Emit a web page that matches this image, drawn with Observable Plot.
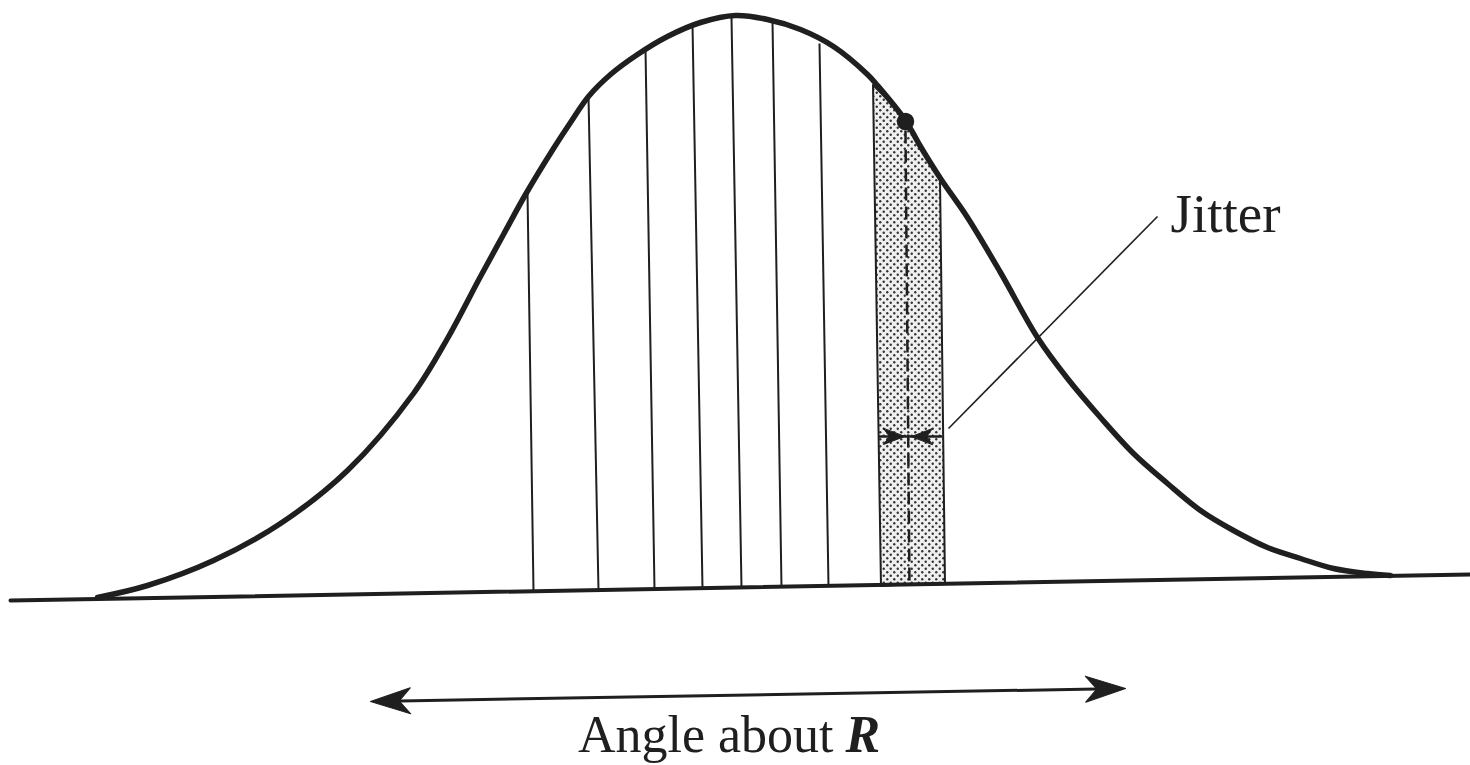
<!DOCTYPE html>
<html>
<head>
<meta charset="utf-8">
<script src="https://cdn.jsdelivr.net/npm/d3@7"></script>
<script src="https://cdn.jsdelivr.net/npm/@observablehq/plot@0.6"></script>
<style>
  html, body { margin: 0; padding: 0; background: #ffffff; }
  #chart { width: 1470px; height: 765px; overflow: hidden; }
</style>
</head>
<body>
<div id="chart"></div>
<script>
// ---- data (horizontal: angle, vertical: height, both in picture units) ----
const curveX = [97,147,213,280,347,413,447,480,503,525,553,570,588,610,637,667,700,735,767,800,833,867,877,905,920,940,967,1000,1037,1067,1100,1133,1167,1200,1233,1267,1300,1333,1367,1390];
const curveY = [597,585,560,523,470,393,338,276,234,194,148,122,96,74,54,36,22,15,19,29,46,74,85,120,146,178,217,272,337,378,417,453,483,510,530,547,558,568,573,575];

const baseX = [10, 1470];
const baseY = [600, 574];

const sampleBottomX = [533, 598, 654, 702, 741, 781, 828];
const sampleBottomY = [591, 590, 589, 588, 587, 587, 586];
const sampleTopX    = [527, 588, 645, 692, 731, 772, 819];
const sampleTopY    = [191, 96, 49, 24, 17, 21, 43];

const bandBottomX = [881, 897, 913, 929, 945];
const bandBottomY = [586, 585, 585, 585, 584];
const bandTopX    = [873, 889, 905, 922, 940];
const bandTopY    = [85, 101, 120, 148, 178];

const pointX = [905];
const pointY = [121];

const dashX = [905, 909];
const dashY = [130, 585];

const leaderX = [1157, 948];
const leaderY = [216, 428];

const jitterShaftX = [878, 942];
const jitterShaftY = [436, 436];
const jitterTipX = [904, 911];
const jitterTipY = [436, 436];
const jitterTipDir = [90, -90];

const rangeTipX = [370, 1125];
const rangeTipY = [701, 688];
const rangeShaftX = [386, 1109];
const rangeShaftY = [700.7, 688.3];

const labelJitter = "Jitter";
const labelAxis = "Angle about";
const labelAxisSymbol = "R";

// ---- build tables ----
const ink = "#1f1f1f";
const curve = curveX.map((x, i) => ({x, y: curveY[i]}));
const base = baseX.map((x, i) => ({x, y: baseY[i]}));
const samples = sampleBottomX.map((x, i) => ({x1: x, y1: sampleBottomY[i], x2: sampleTopX[i], y2: sampleTopY[i]}));
const band = bandBottomX.map((x, i) => ({x1: x, y1: bandBottomY[i], x2: bandTopX[i], y2: bandTopY[i]}));
const dash = [{x1: dashX[0], y1: dashY[0], x2: dashX[1], y2: dashY[1]}];
const leader = [{x1: leaderX[0], y1: leaderY[0], x2: leaderX[1], y2: leaderY[1]}];
const jShaft = [{x1: jitterShaftX[0], y1: jitterShaftY[0], x2: jitterShaftX[1], y2: jitterShaftY[1]}];
const jTips = jitterTipX.map((x, i) => ({x, y: jitterTipY[i], r: jitterTipDir[i]}));
const rShaft = [{x1: rangeShaftX[0], y1: rangeShaftY[0], x2: rangeShaftX[1], y2: rangeShaftY[1]}];
const rTips = [
  {x: rangeTipX[0], y: rangeTipY[0], r: Math.atan2(rangeTipX[0] - rangeTipX[1], -(rangeTipY[0] - rangeTipY[1])) * 180 / Math.PI},
  {x: rangeTipX[1], y: rangeTipY[1], r: Math.atan2(rangeTipX[1] - rangeTipX[0], -(rangeTipY[1] - rangeTipY[0])) * 180 / Math.PI}
];

// filled, barbed arrowhead with its tip at the anchor
const barbed = {
  draw(context, l, r) {
    context.moveTo(0, 0);
    context.lineTo(r, l);
    context.lineTo(0, l * 0.72);
    context.lineTo(-r, l);
    context.closePath();
  }
};

const serif = "'Liberation Serif', 'DejaVu Serif', 'Times New Roman', serif";

const chart = Plot.plot({
  width: 1470,
  height: 765,
  margin: 0,
  x: {domain: [0, 1470], range: [0, 1470], axis: null},
  y: {domain: [0, 765], range: [0, 765], axis: null},
  style: {background: "#ffffff", overflow: "visible"},
  marks: [
    Plot.area(band, {x1: "x1", y1: "y1", x2: "x2", y2: "y2", fill: "url(#stipple)", stroke: ink, strokeWidth: 2}),
    Plot.link(samples, {x1: "x1", y1: "y1", x2: "x2", y2: "y2", stroke: ink, strokeWidth: 2}),
    Plot.link(dash, {x1: "x1", y1: "y1", x2: "x2", y2: "y2", stroke: ink, strokeWidth: 2.5, strokeDasharray: "13,6"}),
    Plot.line(base, {x: "x", y: "y", stroke: ink, strokeWidth: 4}),
    Plot.line(curve, {x: "x", y: "y", stroke: ink, strokeWidth: 5.5, curve: "catmull-rom"}),
    Plot.dot([0], {x: () => pointX[0], y: () => pointY[0], r: 8, fill: ink, stroke: ink}),
    Plot.link(leader, {x1: "x1", y1: "y1", x2: "x2", y2: "y2", stroke: ink, strokeWidth: 1.6}),
    Plot.link(jShaft, {x1: "x1", y1: "y1", x2: "x2", y2: "y2", stroke: ink, strokeWidth: 2.5}),
    Plot.vector(jTips, {x: "x", y: "y", rotate: "r", length: 21, r: 8, anchor: "start", shape: barbed, fill: ink, stroke: ink, strokeWidth: 1}),
    Plot.link(rShaft, {x1: "x1", y1: "y1", x2: "x2", y2: "y2", stroke: ink, strokeWidth: 3}),
    Plot.vector(rTips, {x: "x", y: "y", rotate: "r", length: 40, r: 13, anchor: "start", shape: barbed, fill: ink, stroke: ink, strokeWidth: 1}),
    Plot.text([labelJitter], {x: () => 1170, y: () => 214, text: d => d, textAnchor: "start", fontSize: 55, fontFamily: serif, fill: ink}),
    Plot.text([labelAxis], {x: () => 833, y: () => 735, text: d => d, textAnchor: "end", fontSize: 52, fontFamily: serif, fill: ink}),
    Plot.text([labelAxisSymbol], {x: () => 845, y: () => 735, text: d => d, textAnchor: "start", fontSize: 52, fontFamily: serif, fontWeight: "bold", fontStyle: "italic", fill: ink})
  ]
});

// stipple pattern for the shaded band
const svg = d3.select(chart);
const defs = svg.insert("defs", ":first-child");
const pat = defs.append("pattern")
  .attr("id", "stipple")
  .attr("patternUnits", "userSpaceOnUse")
  .attr("width", 7)
  .attr("height", 7);
pat.append("rect").attr("width", 7).attr("height", 7).attr("fill", "#efefef");
pat.append("circle").attr("cx", 1.75).attr("cy", 1.75).attr("r", 1.2).attr("fill", "#333333");
pat.append("circle").attr("cx", 5.25).attr("cy", 5.25).attr("r", 1.2).attr("fill", "#333333");

document.getElementById("chart").appendChild(chart);
</script>
</body>
</html>
